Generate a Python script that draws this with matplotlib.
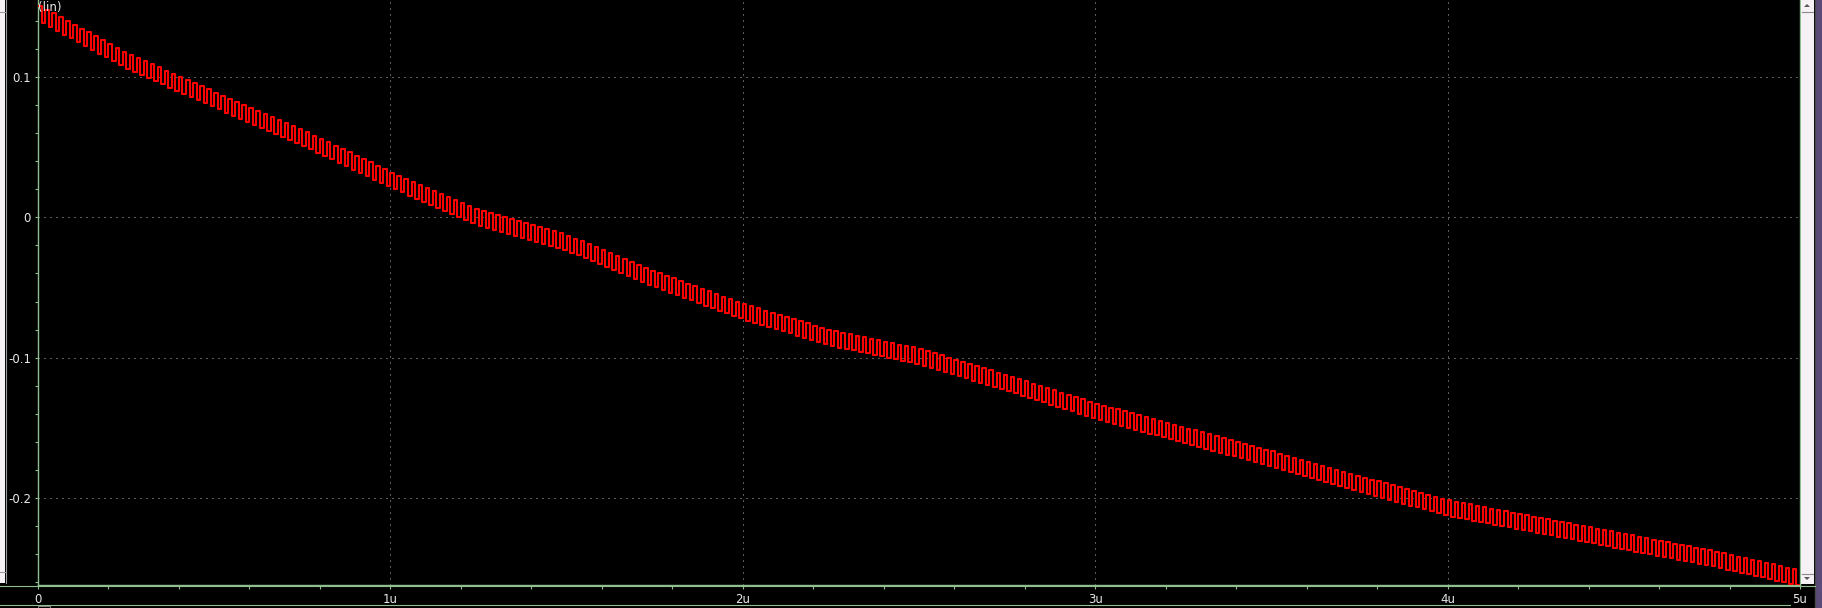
import numpy as np
import matplotlib
matplotlib.use("Agg")
import matplotlib.pyplot as plt
from matplotlib.patches import Rectangle, Polygon
from matplotlib.lines import Line2D

# centre line of the red trace, every 0.25u
t_read = [0.0, 0.25, 0.5, 0.75, 1.0, 1.25, 1.5, 1.75, 2.0, 2.25, 2.5,
          2.75, 3.0, 3.25, 3.5, 3.75, 4.0, 4.25, 4.5, 4.75, 5.0]
v_mid = [0.146, 0.112, 0.084, 0.057, 0.027, 0.000, -0.018, -0.044, -0.067, -0.086, -0.099,
         -0.118, -0.138, -0.155, -0.172, -0.190, -0.207, -0.219, -0.231, -0.243, -0.257]
period_us = 0.02      # one square cycle is about 7 px wide
ripple = 0.011        # high-to-low step of the square wave

xticks = [0, 1, 2, 3, 4, 5]
xlabels = ["0", "1u", "2u", "3u", "4u", "5u"]
yticks = [-0.2, -0.1, 0.0, 0.1]
ylabels = ["-0.2", "-0.1", "0", "0.1"]

W, H = 1822, 608
GREEN = "#8fbf8f"
GRID = "#b4b4b4"
TXT = "#e8e8e8"

fig = plt.figure(figsize=(W / 100, H / 100), dpi=100, facecolor="black")
ax = fig.add_axes([38 / W, 23 / H, 1762 / W, 585 / H], facecolor="black")

# square wave riding on the centre line
ncyc = int(round(t_read[-1] / period_us))
edges = np.arange(2 * ncyc + 1) * period_us / 2
centres = (edges[:-1] + edges[1:]) / 2
mid = np.interp(centres, t_read, v_mid)
sgn = np.where(np.arange(2 * ncyc) % 2 == 0, 1.0, -1.0)
lev = mid + sgn * ripple / 2
ax.step(edges, np.append(lev, lev[-1]), where="post", color="#ff0000", lw=1.5, zorder=3)

ax.set_xlim(0, 5)
ax.set_ylim(-0.262, 0.1549)

for x in xticks[1:]:
    ax.axvline(x, color=GRID, lw=0.72, ls=(0, (1, 5)), zorder=1)
for y in yticks:
    ax.axhline(y, color=GRID, lw=0.72, ls=(0, (1, 5)), zorder=1)

ax.set_xticks(xticks)
ax.set_xticklabels(xlabels)
ax.set_xticks(np.arange(0, 5.01, 0.2), minor=True)
ax.set_yticks(yticks)
ax.set_yticklabels(ylabels)
ax.set_yticks(np.arange(-0.26, 0.15, 0.02), minor=True)
ax.tick_params(which="both", colors=GREEN, labelcolor=TXT, labelsize=8.5, width=0.8)
ax.tick_params(axis="x", which="both", direction="out", length=3, pad=3)
ax.tick_params(axis="y", which="both", direction="out", length=2.5, pad=2.5)

for s in ["left", "bottom", "right"]:
    ax.spines[s].set_color(GREEN)
    ax.spines[s].set_linewidth(1)
ax.spines["top"].set_visible(False)

ax.text(0.0, 0.999, "(lin)", transform=ax.transAxes, ha="left", va="top",
        color=TXT, fontsize=8.5, zorder=4)


# window chrome around the plot, given in pixels from the top-left corner
def px_rect(x0, y0, x1, y1, **kw):
    fig.add_artist(Rectangle((x0 / W, 1 - y1 / H), (x1 - x0) / W, (y1 - y0) / H,
                             transform=fig.transFigure, **kw))


def px_line(x0, y0, x1, y1, **kw):
    fig.add_artist(Line2D([x0 / W, x1 / W], [1 - y0 / H, 1 - y1 / H],
                          transform=fig.transFigure, **kw))


def px_tri(pts, **kw):
    fig.add_artist(Polygon([(x / W, 1 - y / H) for x, y in pts],
                           transform=fig.transFigure, **kw))


# left scrollbar stub
px_rect(0, 0, 5, 583, facecolor="#f5f1f5", edgecolor="none")
px_line(5.5, 0, 5.5, 583, color="#9a9a9a", lw=0.8)
px_line(0, 11.5, 5, 11.5, color="#9a9a9a", lw=0.8)
px_line(0, 572, 5, 572, color="#9a9a9a", lw=0.8)

# right scrollbar and frame
px_rect(1801, 0, 1814, 584, facecolor="#f5f1f5", edgecolor="none")
px_line(1802, 11.5, 1813, 11.5, color="#8a8a8a", lw=0.8)
px_line(1802, 573.5, 1813, 573.5, color="#8a8a8a", lw=0.8)
px_tri([(1804, 7), (1810, 7), (1807, 4)], facecolor="#5a5a5a", edgecolor="none")
px_tri([(1804, 577), (1810, 577), (1807, 580)], facecolor="#5a5a5a", edgecolor="none")
px_line(1814.5, 0, 1814.5, 608, color="#4a4a4a", lw=1)
px_rect(1816, 0, 1822, 608, facecolor="#5b4a7a", edgecolor="none")

# axis line running under the whole width, and the lower frame line
px_line(0, 585.5, 1815, 585.5, color=GREEN, lw=0.8)
px_line(0, 605, 1790, 605, color=GREEN, lw=0.8)
px_rect(38, 606, 50, 608, facecolor="none", edgecolor="#9a9a9a", lw=0.6)

fig.savefig("out.png", dpi=100, facecolor="black")
